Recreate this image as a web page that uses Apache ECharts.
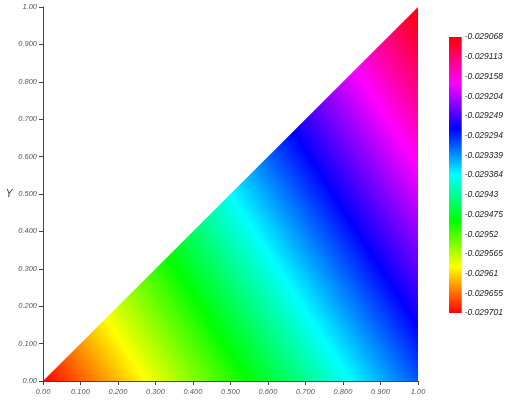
<!DOCTYPE html>
<html>
<head>
<meta charset="utf-8">
<script src="https://cdn.jsdelivr.net/npm/echarts@6/dist/echarts.min.js"></script>
<style>
    html, body { margin: 0; padding: 0; background: #fff; }
    #main { width: 506px; height: 402px; }
</style>
</head>
<body>
<div id="main"></div>
<script>
    // triangle corners (x, y) and the field value at each corner
    var cornerX = [0, 1, 1];
    var cornerY = [0, 0, 1];
    var cornerVal = [-0.029701, -0.029315, -0.029068];

    // colour scale
    var scaleMin = -0.029701;
    var scaleMax = -0.029068;
    var hueColors = ['#ff0000', '#ffff00', '#00ff00', '#00ffff', '#0000ff', '#ff00ff', '#ff0000'];
    var colorbarLabels = ['-0.029701', '-0.029655', '-0.02961', '-0.029565', '-0.02952', '-0.029475', '-0.02943',
        '-0.029384', '-0.029339', '-0.029294', '-0.029249', '-0.029204', '-0.029158', '-0.029113', '-0.029068'];

    var xTickLabels = ['0.00', '0.100', '0.200', '0.300', '0.400', '0.500', '0.600', '0.700', '0.800', '0.900', '1.00'];
    var yTickLabels = ['0.00', '0.100', '0.200', '0.300', '0.400', '0.500', '0.600', '0.700', '0.800', '0.900', '1.00'];

    var myChart = echarts.init(document.getElementById('main'));

    var stops = hueColors.map(function (c, i) {
        return {offset: i / (hueColors.length - 1), color: c};
    });

    var tickLabelStyle = {
        fontFamily: 'Liberation Sans',
        fontStyle: 'italic',
        fontSize: 7.5,
        color: '#555'
    };

    function renderTriangle(params, api) {
        if (params.dataIndex !== 0) return;
        var p = cornerX.map(function (x, i) { return api.coord([x, cornerY[i]]); });
        var ux = p[1][0] - p[0][0], uy = p[1][1] - p[0][1];
        var vx = p[2][0] - p[0][0], vy = p[2][1] - p[0][1];
        var d1 = cornerVal[1] - cornerVal[0], d2 = cornerVal[2] - cornerVal[0];
        var det = ux * vy - uy * vx;
        var gx = (d1 * vy - d2 * uy) / det;
        var gy = (ux * d2 - vx * d1) / det;
        var g2 = gx * gx + gy * gy;
        var s = (scaleMin - cornerVal[0]) / g2;
        var e = (scaleMax - cornerVal[0]) / g2;
        return {
            type: 'polygon',
            shape: {points: p},
            style: {
                fill: new echarts.graphic.LinearGradient(
                    p[0][0] + gx * s, p[0][1] + gy * s,
                    p[0][0] + gx * e, p[0][1] + gy * e,
                    stops, true)
            }
        };
    }

    function renderColorbar(params, api) {
        var top = api.coord([0, colorbarLabels.length - 1]);
        var bottom = api.coord([1, 0]);
        return {
            type: 'rect',
            shape: {x: top[0], y: top[1], width: bottom[0] - top[0], height: bottom[1] - top[1]},
            style: {
                fill: new echarts.graphic.LinearGradient(0, 1, 0, 0, stops)
            }
        };
    }

    var option = {
        backgroundColor: '#fff',
        animation: false,
        grid: [
            {left: 43, right: 88, top: 7, bottom: 21},
            {left: 449, width: 20, top: 37, height: 276}
        ],
        xAxis: [
            {
                type: 'value', gridIndex: 0, min: 0, max: 1, interval: 0.1,
                axisLine: {lineStyle: {color: '#444', width: 1}},
                axisTick: {length: 4, lineStyle: {color: '#444'}},
                splitLine: {show: false},
                axisLabel: Object.assign({
                    margin: 7,
                    formatter: function (v) { return xTickLabels[Math.round(v * 10)]; }
                }, tickLabelStyle)
            },
            {type: 'value', gridIndex: 1, min: 0, max: 1, show: false}
        ],
        yAxis: [
            {
                type: 'value', gridIndex: 0, min: 0, max: 1, interval: 0.1,
                name: 'Y', nameLocation: 'middle', nameGap: 28, nameRotate: 0,
                nameTextStyle: {fontFamily: 'Liberation Sans', fontStyle: 'italic', fontSize: 10, color: '#333'},
                axisLine: {lineStyle: {color: '#444', width: 1}},
                axisTick: {length: 4, lineStyle: {color: '#444'}},
                splitLine: {show: false},
                axisLabel: Object.assign({
                    margin: 6,
                    formatter: function (v) { return yTickLabels[Math.round(v * 10)]; }
                }, tickLabelStyle)
            },
            {
                type: 'value', gridIndex: 1, min: 0, max: colorbarLabels.length - 1, interval: 1,
                position: 'right',
                axisLine: {show: false},
                axisTick: {show: false},
                splitLine: {show: false},
                axisLabel: {
                    margin: 3,
                    padding: [5, 0, 0, 0],
                    fontFamily: 'Liberation Sans',
                    fontStyle: 'italic',
                    fontSize: 8.5,
                    color: '#222',
                    formatter: function (v) { return colorbarLabels[v]; }
                }
            }
        ],
        series: [
            {
                type: 'custom',
                xAxisIndex: 0, yAxisIndex: 0,
                renderItem: renderTriangle,
                data: cornerX.map(function (x, i) { return [x, cornerY[i], cornerVal[i]]; })
            },
            {
                type: 'custom',
                xAxisIndex: 1, yAxisIndex: 1,
                renderItem: renderColorbar,
                data: [[0, 0]]
            }
        ]
    };

    myChart.setOption(option);
</script>
</body>
</html>
